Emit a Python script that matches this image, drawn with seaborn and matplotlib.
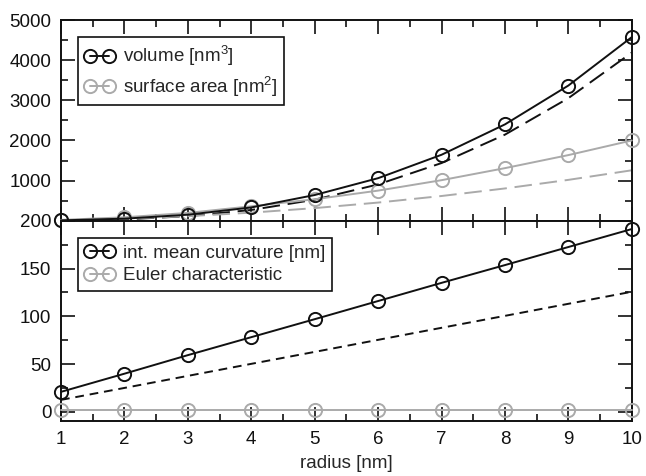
import matplotlib
matplotlib.use('Agg')
import matplotlib.pyplot as plt
import seaborn as sns
from matplotlib.lines import Line2D
from matplotlib.ticker import MultipleLocator, FixedLocator

# values
radius = [1, 2, 3, 4, 5, 6, 7, 8, 9, 10]
volume = [9, 51, 150, 330, 640, 1060, 1643, 2400, 3368, 4575]
volume_sphere = [4.2, 33.5, 113.1, 268.1, 523.6, 904.8, 1436.8, 2144.7, 3053.6, 4188.8]
surface = [20, 85, 195, 360, 535, 750, 1010, 1310, 1635, 2000]
surface_sphere = [12.6, 50.3, 113.1, 201.1, 314.2, 452.4, 615.8, 804.2, 1017.9, 1256.6]
curvature = [21, 40, 59.4, 78.2, 97, 116, 135, 153.6, 172.5, 191.3]
curvature_sphere = [12.6, 25.1, 37.7, 50.3, 62.8, 75.4, 88.0, 100.5, 113.1, 125.7]
euler = [2, 2, 2, 2, 2, 2, 2, 2, 2, 2]

sns.set_style('ticks')
plt.rcParams['font.family'] = ['Liberation Sans', 'DejaVu Sans']
plt.rcParams['mathtext.fontset'] = 'custom'
plt.rcParams['mathtext.rm'] = 'Liberation Sans'
plt.rcParams['font.size'] = 13.5

BLACK = '#111111'
GREY = '#aaaaaa'
LW = 1.4
FS = 13.5


def marks(color):
    return dict(marker='o', markersize=9.5, markerfacecolor='none',
                markeredgecolor=color, markeredgewidth=1.4)


fig = plt.figure(figsize=(6.46, 4.76), dpi=100)
ax_top = fig.add_axes([0.0944, 0.5363, 0.8836, 0.4216])
ax_bot = fig.add_axes([0.0944, 0.1145, 0.8836, 0.4218])

# top panel: volume and surface area (dashed = ideal sphere)
sns.lineplot(x=radius, y=volume_sphere, ax=ax_top, color=BLACK, lw=LW,
             linestyle=(0, (9, 4)))
sns.lineplot(x=radius, y=surface_sphere, ax=ax_top, color=GREY, lw=LW,
             linestyle=(0, (9, 4)))
sns.lineplot(x=radius, y=surface, ax=ax_top, color=GREY, lw=LW,
             clip_on=False, zorder=3, **marks(GREY))
sns.lineplot(x=radius, y=volume, ax=ax_top, color=BLACK, lw=LW,
             clip_on=False, zorder=4, **marks(BLACK))

# bottom panel: mean curvature and Euler characteristic
sns.lineplot(x=radius, y=curvature_sphere, ax=ax_bot, color=BLACK, lw=LW,
             linestyle=(0, (4.5, 3)))
sns.lineplot(x=radius, y=euler, ax=ax_bot, color=GREY, lw=LW,
             clip_on=False, zorder=3, **marks(GREY))
sns.lineplot(x=radius, y=curvature, ax=ax_bot, color=BLACK, lw=LW,
             clip_on=False, zorder=4, **marks(BLACK))

for ax in (ax_top, ax_bot):
    ax.set_xlim(1, 10)
    ax.xaxis.set_major_locator(MultipleLocator(1))
    ax.xaxis.set_minor_locator(MultipleLocator(0.5))
    ax.tick_params(which='both', direction='in', top=True, right=True,
                   width=1.2, colors=BLACK, labelsize=FS, pad=7)
    ax.tick_params(which='major', length=10)
    ax.tick_params(which='minor', length=5)
    for s in ax.spines.values():
        s.set_linewidth(1.4)
        s.set_color(BLACK)
    ax.set_xlabel('')
    ax.set_ylabel('')

ax_top.set_ylim(0, 5000)
ax_top.yaxis.set_major_locator(FixedLocator([0, 1000, 2000, 3000, 4000, 5000]))
ax_top.yaxis.set_minor_locator(MultipleLocator(500))
ax_top.set_yticklabels(['', '1000', '2000', '3000', '4000', '5000'])
ax_top.tick_params(labelbottom=False)

ax_bot.set_ylim(-10, 200)
ax_bot.yaxis.set_major_locator(MultipleLocator(50))
ax_bot.yaxis.set_minor_locator(MultipleLocator(25))
ax_bot.set_xlabel('radius [nm]', fontsize=FS, labelpad=5)

leg_kw = dict(loc='upper left', numpoints=2, handlelength=1.6, handletextpad=0.45,
              borderpad=0.35, labelspacing=0.3, fancybox=False, framealpha=1,
              edgecolor=BLACK, fontsize=FS, borderaxespad=0)


def handle(color):
    return Line2D([], [], color=color, lw=LW, **marks(color))


leg = ax_top.legend([handle(BLACK), handle(GREY)],
                    ['volume [nm$^3$]', 'surface area [nm$^2$]'],
                    bbox_to_anchor=(0.03, 0.915), **leg_kw)
leg.get_frame().set_linewidth(1.2)

leg = ax_bot.legend([handle(BLACK), handle(GREY)],
                    ['int. mean curvature [nm]', 'Euler characteristic'],
                    bbox_to_anchor=(0.03, 0.914), **leg_kw)
leg.get_frame().set_linewidth(1.2)

fig.savefig('out.png', dpi=100)
